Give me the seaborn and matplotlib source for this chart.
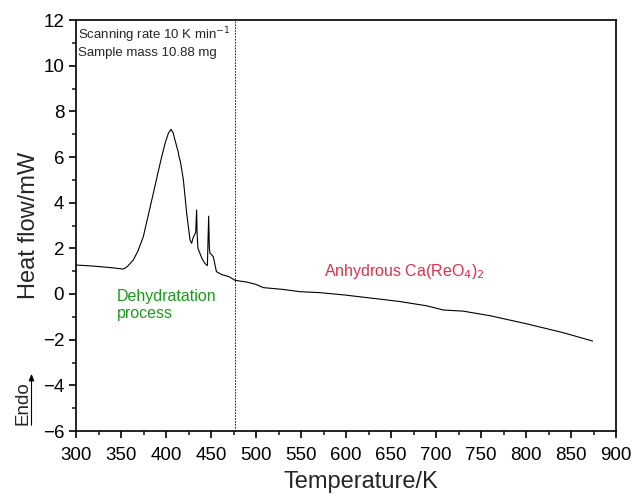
import matplotlib
matplotlib.use("Agg")
import matplotlib.pyplot as plt
import seaborn as sns
import pandas as pd
from matplotlib.ticker import MultipleLocator

temperature = [300, 320, 340, 352.6, 357, 363.7, 369, 374.8, 380, 385.9, 391, 395.2, 399, 402.6,
               405.6, 408, 410, 412, 413.7, 414.2, 416, 419.3, 423, 426.7, 428.5, 430, 431.5, 433,
               434, 434.6, 435.5, 437, 440, 443, 446, 446.6, 447.4, 448.2, 448.9, 450, 452.6, 456,
               462, 470, 476.7, 490, 500, 508, 530, 549, 571, 600, 630, 660, 690, 708, 730, 760,
               800, 840, 874]
heat_flow = [1.27, 1.22, 1.15, 1.09, 1.2, 1.49, 1.9, 2.51, 3.4, 4.41, 5.3, 6.01, 6.6, 7.04,
             7.21, 7.05, 6.74, 6.45, 6.2, 6.05, 5.8, 5.0, 3.53, 2.36, 2.22, 2.45, 2.58, 2.7,
             3.68, 2.6, 2.0, 1.85, 1.55, 1.35, 1.24, 2.2, 3.41, 2.0, 1.78, 1.75, 1.63, 0.98,
             0.85, 0.76, 0.6, 0.52, 0.42, 0.28, 0.2, 0.1, 0.06, -0.05, -0.19, -0.33, -0.52, -0.70,
             -0.75, -0.95, -1.3, -1.68, -2.06]

xticks = list(range(300, 901, 50))
yticks = list(range(-6, 13, 2))
boundary_T = 477

df = pd.DataFrame({"Temperature": temperature, "Heat flow": heat_flow})

sns.set_style("ticks")
plt.rcParams["font.family"] = ["Liberation Sans", "DejaVu Sans"]

fig = plt.figure(figsize=(6.32, 4.94), dpi=100)
ax = fig.add_axes([76/632, 1 - 431/494, 540/632, 411/494])

sns.lineplot(data=df, x="Temperature", y="Heat flow", ax=ax, color="black", linewidth=0.8)

ax.axvline(boundary_T, color="black", linestyle=(0, (2, 1.5)), linewidth=0.6)

ax.set_xlim(300, 900)
ax.set_ylim(-6, 12)
ax.set_xticks(xticks)
ax.set_yticks(yticks)
ax.xaxis.set_minor_locator(MultipleLocator(25))
ax.yaxis.set_minor_locator(MultipleLocator(1))
ax.tick_params(axis="both", which="major", direction="out", length=5, width=1.2,
               labelsize=13.5, colors="black", top=False, right=False)
ax.tick_params(axis="x", which="major", pad=6.5)
ax.tick_params(axis="both", which="minor", direction="out", length=2.8, width=1.2,
               top=False, right=False)
for s in ax.spines.values():
    s.set_visible(True)
    s.set_linewidth(1.2)
    s.set_color("black")

ax.set_xlabel("Temperature/K", fontsize=17)
ax.set_ylabel("Heat flow/mW", fontsize=17, labelpad=2)
ax.xaxis.set_label_coords((361 - 76) / 540, -0.124)
ax.xaxis.label.set_verticalalignment("center")

ax.text(302, 11.34, "Scanning rate 10 K min$^{-1}$", fontsize=9.5, va="center", ha="left")
ax.text(302, 10.55, "Sample mass 10.88 mg", fontsize=9.5, va="center", ha="left")

ax.text(345, -0.48, "Dehydratation\nprocess", fontsize=11.5, color="#1a9a1a", va="center",
        ha="left", linespacing=1.15)
ax.text(576, 1.0, "Anhydrous Ca(ReO$_4$)$_2$", fontsize=11.5, color="#e0304a", va="center",
        ha="left")

fig.text(23/632, 1 - 403/494, "Endo", rotation=90, fontsize=13.5, ha="center", va="center")
fig.patches.append(matplotlib.patches.FancyArrowPatch(
    (31.5/632, 1 - 428/494), (31.5/632, 1 - 371/494), transform=fig.transFigure,
    arrowstyle="-|>,head_length=4,head_width=1.6", color="black", linewidth=0.8))

fig.savefig("out.png", dpi=100)
